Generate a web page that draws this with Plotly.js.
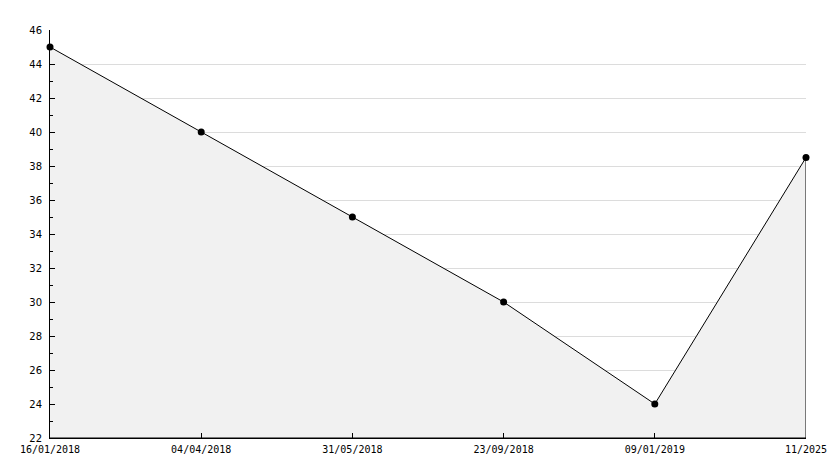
<!DOCTYPE html>
<html><head><meta charset="utf-8">
<script src="https://cdn.plot.ly/plotly-3.0.1.min.js"></script>
<style>body{margin:0;background:#fff}#c{width:834px;height:468px}</style>
</head><body><div id="c"></div>
<script>
const categories = ["16/01/2018","04/04/2018","31/05/2018","23/09/2018","09/01/2019","11/2025"];
const values = [45, 40, 35, 30, 24, 38.5];
const yMin = 22, yMax = 46;

const idx = categories.map((_, i) => i);
const n = idx.length;

const fillTrace = {
  x: idx.concat([idx[n-1], idx[0]]),
  y: values.concat([yMin, yMin]),
  mode: 'lines', fill: 'toself', fillcolor: '#f1f1f1',
  line: {color: '#000', width: 1}, hoverinfo: 'skip', showlegend: false
};
const pts = {
  x: idx, y: values, mode: 'markers', cliponaxis: false,
  marker: {symbol: 'circle', size: 7, color: '#000'}, showlegend: false
};

Plotly.newPlot('c', [fillTrace, pts], {
  width: 834, height: 468,
  margin: {l: 50, r: 28, t: 30, b: 30},
  paper_bgcolor: '#fff', plot_bgcolor: '#fff',
  font: {family: 'DejaVu Sans Mono', size: 10, color: '#000'},
  xaxis: {
    range: [0, n-1], tickvals: idx, ticktext: categories,
    showgrid: false, zeroline: false, showline: true, linecolor: '#000', linewidth: 1,
    ticks: 'inside', ticklen: 5, tickcolor: '#000', ticklabelstandoff: 2,
    tickfont: {family: 'DejaVu Sans Mono', size: 10}
  },
  yaxis: {
    range: [yMin, yMax], dtick: 2, tick0: 22,
    showgrid: true, gridcolor: '#dcdcdc', zeroline: false,
    showline: true, linecolor: '#000', linewidth: 1,
    ticks: 'inside', ticklen: 5, tickcolor: '#000', ticklabelstandoff: 5,
    minor: {dtick: 1, ticks: 'inside', ticklen: 3, tickcolor: '#000', showgrid: false},
    tickfont: {family: 'DejaVu Sans', size: 10}
  }
}, {staticPlot: true});
</script></body></html>
